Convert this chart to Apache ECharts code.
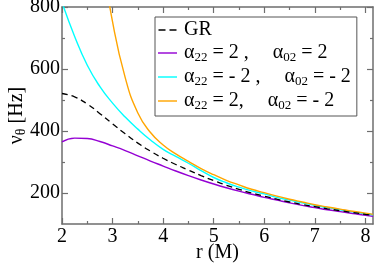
<!DOCTYPE html>
<html><head><meta charset="utf-8">
<script src="https://cdn.jsdelivr.net/npm/echarts@6/dist/echarts.min.js"></script>
<style>html,body{margin:0;padding:0;background:#fff}#c{width:374px;height:266px}</style>
</head><body><div id="c"></div>
<script>
const rGrid = [2, 2.25, 2.5, 2.75, 3, 3.25, 3.5, 3.75, 4, 4.25, 4.5, 4.75, 5, 5.25, 5.5, 5.75, 6, 6.25, 6.5, 6.75, 7, 7.25, 7.5, 7.75, 8, 8.15];
const nuGR = [521, 510, 487, 456, 423, 391, 361, 335, 312, 292, 274, 256, 240, 225, 212, 200, 190, 180, 171, 163, 156, 149, 143, 137, 131, 128];
const nuA = [365, 377, 376, 366, 352, 337, 320, 303, 287, 271, 256, 242, 229, 217, 206, 196, 186, 177, 168, 160, 153, 146, 140, 134, 128, 125];
const nuB = [815, 705, 612, 543, 490, 445, 406, 371, 341, 318, 296, 272, 250, 233, 219, 207, 197, 186, 177, 168, 160, 153, 146, 139, 133, 130];
const rC = [2.75, 3, 3.25, 3.5, 3.75, 4, 4.25, 4.5, 4.75, 5, 5.25, 5.5, 5.75, 6, 6.25, 6.5, 6.75, 7, 7.25, 7.5, 7.75, 8, 8.15];
const nuC = [1000, 752, 572, 458, 395, 355, 326, 302, 279, 259, 241, 226, 212, 201, 190, 180, 171, 162, 155, 148, 141, 135, 131];
const xMajor = [2, 3, 4, 5, 6, 7, 8];
const xMinor = [2.5, 3.5, 4.5, 5.5, 6.5, 7.5];
const yMajor = [200, 400, 600, 800];
const yMinor = [300, 500, 700];
const names = ['GR', 'A', 'B', 'C'];

const zip = (xs, ys) => xs.map((x, i) => [x, ys[i]]);
const frame = '#6e6e6e';
const font = "'Liberation Serif', 'Times New Roman', serif";

function xAx(pos, ticks, len, labels, line) {
  return {
    type: 'value', min: 2, max: 8.15, position: pos,
    axisLine: {show: line, lineStyle: {color: frame, width: 1.5}},
    axisTick: {show: true, inside: true, length: len, customValues: ticks, lineStyle: {color: frame, width: 1.2}},
    axisLabel: {show: labels, customValues: ticks, color: '#000', fontFamily: font, fontSize: 20, margin: 3},
    splitLine: {show: false},
    name: (labels ? 'r (M)' : ''), nameLocation: 'middle', nameGap: 19, nameMoveOverlap: false,
    nameTextStyle: {color: '#000', fontFamily: font, fontSize: 20}
  };
}
function yAx(pos, ticks, len, labels, line) {
  return {
    type: 'value', min: 100, max: 800, position: pos,
    axisLine: {show: line, lineStyle: {color: frame, width: 1.5}},
    axisTick: {show: true, inside: true, length: len, customValues: ticks, lineStyle: {color: frame, width: 1.2}},
    axisLabel: {show: labels, customValues: ticks, color: '#000', fontFamily: font, fontSize: 20, margin: 2},
    splitLine: {show: false},
    name: (labels ? '{n|ν}{s|θ}{n| [Hz]}' : ''), nameLocation: 'middle', nameGap: 34, nameMoveOverlap: false,
    nameTextStyle: {color: '#000', fontFamily: font, fontSize: 20,
      rich: {n: {fontFamily: font, fontSize: 20, color: '#000'},
             s: {fontFamily: font, fontSize: 14, color: '#000', verticalAlign: 'bottom', padding: [8, 0, 0, 0]}}}
  };
}

const chart = echarts.init(document.getElementById('c'));
const legendRich = {
  t: {fontFamily: font, fontSize: 20, color: '#000'},
  s: {fontFamily: font, fontSize: 13, color: '#000', verticalAlign: 'bottom', padding: [9, 0, 0, 0]},
  g: {width: 24},
  h: {width: 2}
};
const legendText = {
  GR: '{h|}{t|GR}',
  A: '{h|}{t|α}{s|22}{t| = 2 ,}{g|}{t|α}{s|02}{t| = 2}',
  B: '{h|}{t|α}{s|22}{t| = - 2 ,}{g|}{t|α}{s|02}{t| = - 2}',
  C: '{h|}{t|α}{s|22}{t| = 2,}{g|}{t|α}{s|02}{t| = - 2}'
};
const solidIcon = 'path://M0,0h20v1.5h-20z';
const dashIcon = 'path://M0,0h7v1.5h-7z M11,0h7v1.5h-7z';
chart.setOption({
  animation: false,
  grid: {left: 62, top: 7, right: 1, bottom: 42, containLabel: false, outerBoundsMode: 'none'},
  xAxis: [xAx('bottom', xMajor, 6, true, true), xAx('bottom', xMinor, 3, false, false),
          xAx('top', xMajor, 6, false, true), xAx('top', xMinor, 3, false, false)],
  yAxis: [yAx('left', yMajor, 6, true, true), yAx('left', yMinor, 3, false, false),
          yAx('right', yMajor, 6, false, true), yAx('right', yMinor, 3, false, false)],
  legend: {
    orient: 'vertical', left: 155, top: 17, width: 212,
    backgroundColor: '#fff', borderColor: '#555', borderWidth: 1, borderRadius: 0,
    padding: [3, 6, 4, 3], itemGap: 3, itemWidth: 19, itemHeight: 1.5,
    data: [
      {name: 'GR', icon: dashIcon},
      {name: 'A', icon: solidIcon},
      {name: 'B', icon: solidIcon},
      {name: 'C', icon: solidIcon}
    ],
    formatter: n => legendText[n],
    textStyle: {rich: legendRich}
  },
  series: [
    {name: 'GR', type: 'line', data: zip(rGrid, nuGR), smooth: true, symbol: 'none',
     lineStyle: {color: '#000', width: 1.3, type: [6, 4]}, itemStyle: {color: '#000'}, z: 4},
    {name: 'A', type: 'line', data: zip(rGrid, nuA), smooth: true, symbol: 'none',
     lineStyle: {color: '#9400d3', width: 1.4}, itemStyle: {color: '#9400d3'}},
    {name: 'B', type: 'line', data: zip(rGrid, nuB), smooth: true, symbol: 'none',
     lineStyle: {color: '#00ffff', width: 1.4}, itemStyle: {color: '#00ffff'}},
    {name: 'C', type: 'line', data: zip(rC, nuC), smooth: true, symbol: 'none',
     lineStyle: {color: '#ffa500', width: 1.4}, itemStyle: {color: '#ffa500'}}
  ]
});
</script></body></html>
